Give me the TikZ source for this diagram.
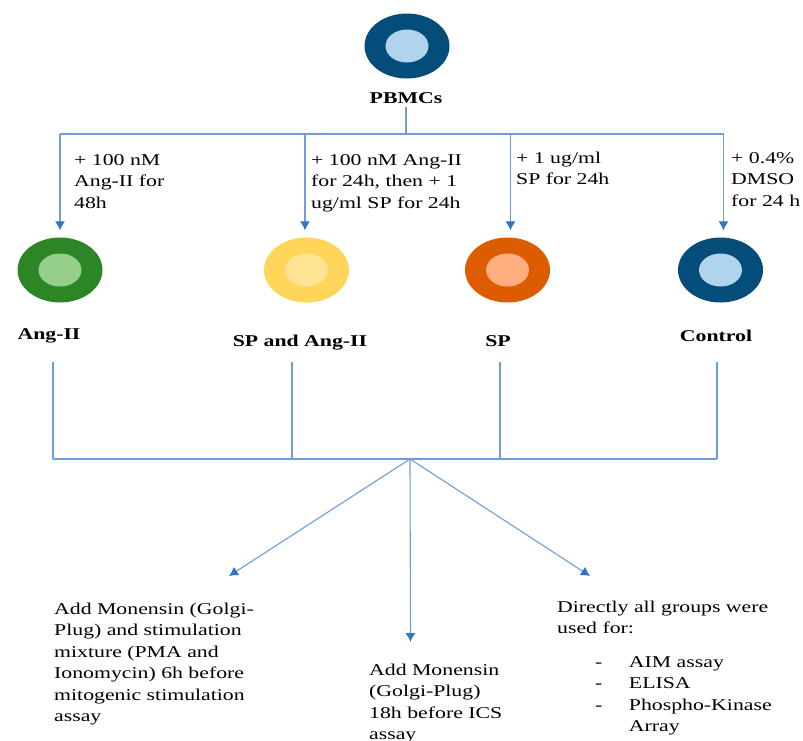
\documentclass[tikz,border=0pt]{standalone}
\usepackage{fontspec}
\setmainfont{Liberation Serif}[FakeStretch=1.32]
\usepackage{xcolor}
\usepackage{tikz}
\usetikzlibrary{shapes,arrows.meta,positioning,calc}
\definecolor{linecolor}{RGB}{112,157,218}
\definecolor{tipcolor}{RGB}{46,117,200}
\definecolor{navyring}{RGB}{4,76,122}
\definecolor{navycore}{RGB}{176,212,238}
\definecolor{greenring}{RGB}{44,134,38}
\definecolor{greencore}{RGB}{150,206,140}
\definecolor{yellowring}{RGB}{255,213,90}
\definecolor{yellowcore}{RGB}{255,228,148}
\definecolor{orangering}{RGB}{222,92,0}
\definecolor{orangecore}{RGB}{255,174,126}

\begin{document}
\begin{tikzpicture}[x=1pt,y=-1pt, >={Latex[length=9pt,width=10pt,color=tipcolor]}, every node/.style={font=\fontsize{16.5}{21.5}\selectfont},
ring/.style={ellipse,minimum width=85pt,minimum height=65pt,inner sep=0pt},
core/.style={ellipse,minimum width=43pt,minimum height=33pt,inner sep=0pt},
conn/.style={draw=linecolor,line width=1.1pt},
group/.style={font=\fontsize{16.5}{21.5}\selectfont\bfseries,anchor=base},
note/.style={align=left,anchor=base west,inner sep=0pt}]
\useasboundingbox (0,0) rectangle (803,740);
\node[ring,fill=navyring](pbmc) at (407,46){}; \node[core,fill=navycore] at (pbmc){};
\node[group](pbmclbl) at (406,103){PBMCs};
\node[ring,fill=greenring](angii) at (60,270){}; \node[core,fill=greencore] at (angii){};
\node[ring,fill=yellowring](spang) at (306.5,270){}; \node[core,fill=yellowcore] at (spang){};
\node[ring,fill=orangering](sp) at (507.5,270){}; \node[core,fill=orangecore] at (sp){};
\node[ring,fill=navyring](ctrl) at (720.5,270){}; \node[core,fill=navycore] at (ctrl){};
\node[group](angiilbl) at (49,339){Ang-II};
\node[group](spanglbl) at (300,346){SP and Ang-II};
\node[group](splbl) at (498,346){SP};
\node[group](ctrllbl) at (716,341){Control};
% notes sit on the baseline of their last line
\node[note](angiitxt) at (74,208){+ 100 nM\\Ang-II for\\48h};
\node[note](spangtxt) at (311,208){+ 100 nM Ang-II\\for 24h, then + 1\\ug/ml SP for 24h};
\node[note](sptxt) at (516,184.5){+ 1 ug/ml\\SP for 24h};
\node[note](ctrltxt) at (731,206){+ 0.4\%\\DMSO\\for 24 h};
\node[note](mixtxt) at (54,721.5){Add Monensin (Golgi-\\Plug) and stimulation\\mixture (PMA and\\Ionomycin) 6h before\\mitogenic stimulation\\assay};
\node[note](icstxt) at (369,739.5){Add Monensin\\(Golgi-Plug)\\18h before ICS\\assay};
\node[note](usetxt) at (557,633.5){Directly all groups were\\used for:};
\node[note](listtxt) at (595,667){\begin{tabular}[t]{@{}l@{\hspace{26.5pt}}l@{}}-&AIM assay\\-&ELISA\\-&Phospho-Kinase\\&Array\end{tabular}};
% split from PBMCs
\coordinate(split) at (406,134); \coordinate(tA) at (60,134); \coordinate(tB) at (305,134);
\coordinate(tC) at (510.5,134); \coordinate(tD) at (723.5,134);
\draw[conn](pbmclbl.south)--(split); \draw[conn](tA)--(tD);
\draw[conn,->,shorten >=7pt](tA)--(tA |- angii.north); \draw[conn,->,shorten >=7pt](tB)--(tB |- spang.north);
\draw[conn,->,shorten >=7pt](tC)--(tC |- sp.north); \draw[conn,->,shorten >=7pt](tD)--(tD |- ctrl.north);
% merge to assays
\coordinate(uA) at (53,362); \coordinate(uB) at (292,362); \coordinate(uC) at (500,362); \coordinate(uD) at (717,362);
\coordinate(bA) at (53,459); \coordinate(bB) at (292,459); \coordinate(bC) at (500,459); \coordinate(bD) at (717,459);
\coordinate(join) at (410,459);
\draw[conn](uA)--(bA); \draw[conn](uB)--(bB); \draw[conn](uC)--(bC); \draw[conn](uD)--(bD); \draw[conn](bA)--(bD);
\coordinate(eL) at (229,576); \coordinate(eM) at (410.5,642); \coordinate(eR) at (590,576);
\draw[conn,->](join)--(eL); \draw[conn,->](join)--(eM); \draw[conn,->](join)--(eR);
\end{tikzpicture}
\end{document}
